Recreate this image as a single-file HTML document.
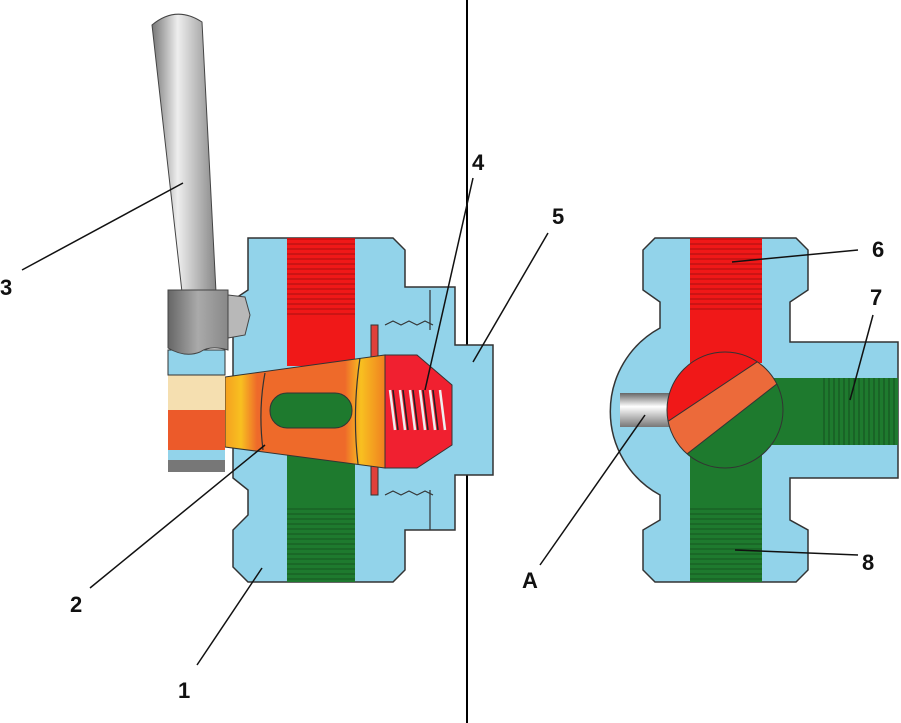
<!DOCTYPE html>
<html><head><meta charset="utf-8"><style>
html,body{margin:0;padding:0;background:#fff;}
svg{display:block}
text{font-family:"Liberation Sans",sans-serif;font-weight:bold;font-size:22px;fill:#111}
</style></head><body>
<svg width="901" height="723" viewBox="0 0 901 723">
<defs>
<linearGradient id="rod" x1="0" x2="1"><stop offset="0" stop-color="#777"/><stop offset="0.4" stop-color="#eee"/><stop offset="1" stop-color="#888"/></linearGradient>
<linearGradient id="hub" x1="0" x2="1"><stop offset="0" stop-color="#666"/><stop offset="0.5" stop-color="#aaa"/><stop offset="1" stop-color="#888"/></linearGradient>
<linearGradient id="pin" x1="0" y1="0" x2="0" y2="1"><stop offset="0" stop-color="#666"/><stop offset="0.4" stop-color="#fff"/><stop offset="1" stop-color="#777"/></linearGradient>
<linearGradient id="plug" x1="0" x2="1"><stop offset="0" stop-color="#f5a020"/><stop offset="0.1" stop-color="#f8c020"/><stop offset="0.2" stop-color="#ee6a2a"/><stop offset="0.75" stop-color="#ee6a2a"/><stop offset="0.85" stop-color="#f8c020"/><stop offset="1" stop-color="#f08020"/></linearGradient>
<pattern id="thr" width="6" height="5" patternUnits="userSpaceOnUse"><rect width="6" height="5" fill="none"/><line x1="0" y1="4" x2="6" y2="4" stroke="#000" stroke-opacity=".3" stroke-width="1"/></pattern>
<pattern id="thrv" width="5" height="6" patternUnits="userSpaceOnUse"><line x1="4" y1="0" x2="4" y2="6" stroke="#000" stroke-opacity=".35" stroke-width="1"/></pattern>
</defs>

<line x1="467" y1="0" x2="467" y2="723" stroke="#000" stroke-width="2"/>

<!-- Left body -->
<path d="M248 238 L393 238 L405 250 L405 287 L455 287 L455 345 L493 345 L493 475 L455 475 L455 530 L405 530 L405 570 L393 582 L248 582 L233 567 L233 530 L248 515 L248 490 L233 478 L233 300 L248 290 L248 250 Z" fill="#92d3ea" stroke="#333" stroke-width="1.5"/>
<rect x="287" y="238" width="68" height="128" fill="#f01818"/>
<rect x="287" y="238" width="68" height="78" fill="url(#thr)"/>
<rect x="287" y="455" width="68" height="127" fill="#1e7a2e"/>
<rect x="287" y="505" width="68" height="77" fill="url(#thr)"/>
<path d="M385 325 l8 -4 l8 4 l8 -4 l8 4 l8 -4 l8 4 M385 495 l8 -4 l8 4 l8 -4 l8 4 l8 -4 l8 4" fill="none" stroke="#333" stroke-width="1.2"/>
<line x1="430" y1="290" x2="430" y2="330" stroke="#333" stroke-width="1.2"/>
<line x1="430" y1="490" x2="430" y2="530" stroke="#333" stroke-width="1.2"/>
<rect x="371" y="325" width="7" height="170" fill="#e0403a" stroke="#333" stroke-width="1"/>
<path d="M225 377 L385 355 L385 468 L225 447 Z" fill="url(#plug)" stroke="#333" stroke-width="1"/>
<path d="M265 373 Q258 410 263 450" fill="none" stroke="#333" stroke-width="1.2"/>
<path d="M360 358 Q352 412 358 464" fill="none" stroke="#333" stroke-width="1.2"/>
<rect x="270" y="393" width="82" height="35" rx="17" fill="#1e7a2e" stroke="#333" stroke-width="1"/>
<path d="M385 355 L417 355 L452 385 L452 445 L417 468 L385 468 Z" fill="#f02030" stroke="#333" stroke-width="1"/>
<g stroke="#eee" stroke-width="2.5" fill="none">
<path d="M390 390 L395 430 M400 390 L405 430 M410 390 L415 430 M420 390 L425 430 M430 390 L435 430 M440 390 L445 430"/>
</g>
<g stroke="#222" stroke-width="1.5" fill="none">
<path d="M393 390 L398 430 M403 390 L408 430 M413 390 L418 430 M423 390 L428 430 M433 390 L438 430"/>
</g>
<rect x="168" y="375" width="57" height="35" fill="#f5dfb0"/>
<rect x="168" y="410" width="57" height="40" fill="#ec5a2a"/>
<rect x="168" y="350" width="57" height="25" fill="#92d3ea" stroke="#333" stroke-width="1"/>
<rect x="168" y="450" width="57" height="22" fill="#777"/>
<rect x="168" y="450" width="57" height="10" fill="#92d3ea"/>
<path d="M152 25 Q176 5 202 22 L216 292 L182 292 Z" fill="url(#rod)" stroke="#444" stroke-width="1"/>
<path d="M228 295 L245 297 L250 315 L245 335 L228 338 Z" fill="#b8b8b8" stroke="#444" stroke-width="1"/>
<path d="M168 290 L228 290 L228 350 Q210 345 200 352 Q185 358 168 348 Z" fill="url(#hub)" stroke="#444" stroke-width="1"/>

<!-- Right body -->
<path d="M655 238 L796 238 L808 250 L808 290 L790 302 L790 342 L898 342 L898 478 L790 478 L790 520 L808 530 L808 570 L796 582 L655 582 L643 570 L643 530 L660 520 L660 495 A95 95 0 0 1 660 328 L660 302 L643 290 L643 250 Z" fill="#92d3ea" stroke="#333" stroke-width="1.5"/>
<rect x="690" y="238" width="72" height="125" fill="#f01818"/>
<rect x="690" y="238" width="72" height="75" fill="url(#thr)"/>
<rect x="725" y="378" width="173" height="67" fill="#1e7a2e"/>
<rect x="823" y="378" width="75" height="67" fill="url(#thrv)"/>
<rect x="690" y="440" width="72" height="142" fill="#1e7a2e"/>
<rect x="690" y="505" width="72" height="77" fill="url(#thr)"/>
<rect x="620" y="393" width="52" height="34" fill="url(#pin)"/>
<clipPath id="ball"><circle cx="725" cy="410" r="58"/></clipPath>
<circle cx="725" cy="410" r="58" fill="#1e7a2e"/>
<g clip-path="url(#ball)">
<path d="M640 440 L790 340 L790 300 L640 300 Z" fill="#f01818"/>
<path d="M640 440 L790 340 L805 362 L660 475 Z" fill="#ec6a3a"/>
<line x1="640" y1="440" x2="790" y2="340" stroke="#333" stroke-width="1"/>
<line x1="660" y1="475" x2="805" y2="362" stroke="#333" stroke-width="1"/>
</g>
<circle cx="725" cy="410" r="58" fill="none" stroke="#333" stroke-width="1"/>

<g stroke="#111" stroke-width="1.5">
<line x1="22" y1="270" x2="183" y2="183"/>
<line x1="473" y1="178" x2="425" y2="390"/>
<line x1="548" y1="233" x2="473" y2="362"/>
<line x1="858" y1="250" x2="732" y2="262"/>
<line x1="873" y1="315" x2="850" y2="400"/>
<line x1="90" y1="588" x2="265" y2="445"/>
<line x1="197" y1="665" x2="262" y2="568"/>
<line x1="540" y1="565" x2="645" y2="415"/>
<line x1="858" y1="555" x2="735" y2="550"/>
</g>
<text x="0" y="295">3</text>
<text x="472" y="170">4</text>
<text x="552" y="224">5</text>
<text x="872" y="257">6</text>
<text x="870" y="305">7</text>
<text x="70" y="612">2</text>
<text x="178" y="698">1</text>
<text x="522" y="588">A</text>
<text x="862" y="570">8</text>
</svg>
</body></html>
